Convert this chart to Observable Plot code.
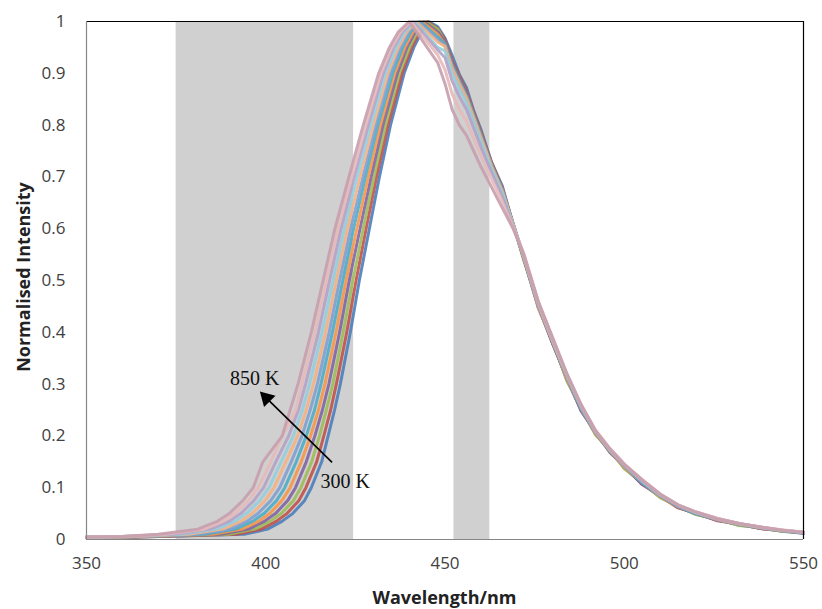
<!DOCTYPE html>
<html><head><meta charset="utf-8">
<script src="https://cdn.jsdelivr.net/npm/d3@7"></script>
<script src="https://cdn.jsdelivr.net/npm/@observablehq/plot@0.6"></script>
<style>body{margin:0;background:#fff;}#chart svg{display:block;}</style>
</head><body><div id="chart"></div>
<script>
const temperatures = ["300 K","350 K","400 K","450 K","500 K","550 K","600 K","650 K","700 K","750 K","800 K","850 K"];
const seriesColors = ["#4A7EBB","#C0504D","#9BBB59","#8064A2","#F79646","#4BACC6","#7F9FD0","#F4B183","#93CDDD","#B3A2C7","#E6B9B8","#C79FAE"];

// flat foot of each spectrum (values at 350 nm and 360 nm), one entry per temperature
const tailWavelengths = [350, 360];
const tailAt350 = [.004,.004,.004,.004,.004,.005,.005,.005,.005,.005,.005,.005];
const tailAt360 = [.004,.004,.005,.005,.005,.005,.005,.005,.006,.006,.006,.006];

// rising edge: wavelength (nm) at which each spectrum reaches these intensities
const riseLevels = [0.01,0.02,0.035,0.05,0.075,0.1,0.15,0.2,0.25,0.3,0.4,0.5,0.6,0.7,0.8,0.9,0.95,0.98];
const rise300 = [394.0,400.5,404.5,407.5,410.8,412.7,415.6,417.4,419.2,420.8,423.6,426.1,428.9,431.7,434.8,438.6,441.3,443.5];
const rise350 = [391.8,398.7,402.9,405.9,409.2,411.2,414.2,416.2,418.1,419.7,422.6,425.2,428.0,430.9,434.1,438.0,440.7,442.9];
const rise400 = [389.6,397.0,401.2,404.3,407.7,409.8,412.8,415.0,416.9,418.7,421.6,424.3,427.2,430.2,433.4,437.3,440.1,442.3];
const rise450 = [387.5,395.2,399.6,402.7,406.1,408.3,411.3,413.7,415.8,417.6,420.6,423.3,426.3,429.4,432.7,436.7,439.4,441.7];
const rise500 = [385.3,393.4,398.0,401.1,404.5,406.8,409.9,412.5,414.7,416.5,419.6,422.4,425.4,428.6,432.0,436.0,438.8,441.1];
const rise550 = [383.1,391.6,396.3,399.5,403.0,405.3,408.5,411.3,413.6,415.4,418.6,421.5,424.5,427.8,431.3,435.4,438.2,440.5];
const rise600 = [380.9,389.9,394.7,397.8,401.4,403.9,407.1,410.1,412.4,414.4,417.7,420.6,423.7,427.1,430.7,434.7,437.6,439.9];
const rise650 = [378.7,388.1,393.0,396.2,399.8,402.3,405.6,408.9,411.3,413.3,416.7,419.7,422.8,426.3,430.0,434.1,437.0,439.4];
const rise700 = [376.6,386.3,391.4,394.6,398.3,400.9,404.3,407.7,410.2,412.2,415.7,418.8,421.9,425.5,429.3,433.4,436.4,438.8];
const rise750 = [374.4,384.5,389.8,393.0,396.7,399.4,402.8,406.4,409.1,411.1,414.7,417.8,421.0,424.7,428.6,432.8,435.7,438.2];
const rise800 = [372.2,382.8,388.1,391.4,395.2,397.9,401.4,404.6,408.4,410.1,413.7,416.9,420.2,424.0,427.9,432.1,435.1,437.6];
const rise850 = [370.0,381.0,386.5,389.8,393.6,396.5,399.2,404.6,406.8,409.0,412.7,416.0,419.3,423.2,427.2,431.5,434.5,437.0];

// wavelength of the maximum (intensity 1) of each spectrum
const peakWavelength = [445.5,445.0,444.5,444.0,443.5,443.0,442.5,442.0,441.5,441.0,440.5,440.0];

// falling edge: intensity of each spectrum at these wavelengths
const fallWavelengths = [448,450,452,454,456,458,460,463,466,469,472,476,480,484,488,492,496,500,505,510,515,520,526,532,538,544,550];
const fall300 = [.990,.968,.934,.898,.872,.828,.792,.728,.682,.608,.542,.448,.382,.308,.252,.203,.172,.138,.109,.082,.063,.049,.038,.028,.022,.016,.012];
const fall350 = [.986,.965,.925,.895,.866,.826,.787,.728,.678,.610,.545,.452,.378,.312,.248,.207,.168,.141,.106,.084,.061,.051,.036,.030,.021,.017,.013];
const fall400 = [.985,.961,.920,.890,.861,.822,.783,.725,.676,.609,.538,.455,.384,.306,.254,.202,.173,.137,.110,.081,.064,.048,.039,.027,.023,.016,.013];
const fall450 = [.980,.961,.920,.890,.861,.822,.783,.725,.676,.609,.541,.450,.379,.311,.249,.206,.169,.142,.107,.085,.062,.050,.037,.030,.021,.018,.012];
const fall500 = [.975,.956,.915,.885,.856,.818,.780,.722,.674,.608,.546,.447,.383,.309,.253,.204,.171,.139,.111,.083,.063,.051,.038,.029,.022,.017,.013];
const fall550 = [.970,.956,.915,.885,.856,.818,.780,.722,.674,.608,.543,.453,.381,.313,.251,.207,.170,.143,.109,.085,.064,.050,.039,.029,.023,.017,.013];
const fall600 = [.965,.952,.910,.880,.852,.814,.776,.720,.672,.608,.547,.451,.385,.314,.254,.206,.173,.141,.112,.084,.065,.051,.038,.030,.023,.018,.013];
const fall650 = [.960,.952,.910,.880,.852,.814,.776,.720,.672,.608,.544,.455,.383,.316,.256,.208,.172,.144,.113,.086,.066,.052,.039,.030,.024,.018,.014];
const fall700 = [.950,.943,.900,.870,.843,.806,.769,.715,.668,.607,.548,.457,.386,.317,.257,.209,.174,.144,.113,.087,.066,.052,.040,.031,.023,.018,.014];
const fall750 = [.945,.930,.885,.855,.830,.794,.758,.708,.662,.605,.549,.458,.388,.318,.258,.209,.174,.145,.114,.087,.066,.053,.040,.031,.024,.018,.014];
const fall800 = [.935,.907,.860,.830,.807,.774,.741,.695,.652,.603,.552,.460,.390,.320,.260,.211,.176,.146,.116,.088,.067,.053,.041,.031,.024,.019,.014];
const fall850 = [.920,.880,.830,.800,.780,.750,.720,.680,.640,.600,.550,.460,.390,.320,.260,.210,.175,.145,.115,.088,.067,.053,.040,.031,.024,.018,.014];

const shadeStart = [375, 452.5];
const shadeEnd = [424.5, 462.5];
const xTicks = [350,400,450,500,550];
const yTicks = [0,0.1,0.2,0.3,0.4,0.5,0.6,0.7,0.8,0.9,1];
const noteText = ["850 K","300 K"];
const noteX = [396.9, 422.2];
const noteY = [0.311, 0.111];
const arrowTail = [418.5, 0.149];
const arrowTip = [400.2, 0.273];

const riseSeries = [rise300,rise350,rise400,rise450,rise500,rise550,rise600,rise650,rise700,rise750,rise800,rise850];
const fallSeries = [fall300,fall350,fall400,fall450,fall500,fall550,fall600,fall650,fall700,fall750,fall800,fall850];
const rows = temperatures.flatMap((t, i) => [
  {x: tailWavelengths[0], y: tailAt350[i], T: t},
  {x: tailWavelengths[1], y: tailAt360[i], T: t},
  ...riseLevels.map((v, k) => ({x: riseSeries[i][k], y: v, T: t})),
  {x: peakWavelength[i], y: 1, T: t},
  ...fallWavelengths.map((w, k) => ({x: w, y: fallSeries[i][k], T: t}))
]);
const shades = shadeStart.map((s, i) => ({x1: s, x2: shadeEnd[i], y1: 0, y2: 1}));
const notes = noteText.map((t, i) => ({text: t, x: noteX[i], y: noteY[i]}));
const arrows = [{x1: arrowTail[0], y1: arrowTail[1], x2: arrowTip[0], y2: arrowTip[1]}];

const chart = Plot.plot({
  width: 822, height: 609,
  marginLeft: 86, marginRight: 19, marginTop: 21, marginBottom: 70,
  style: {fontFamily: "Open Sans", fontSize: "17px", color: "#404040", background: "white"},
  x: {domain: [350, 550]},
  y: {domain: [0, 1]},
  color: {domain: temperatures, range: seriesColors},
  marks: [
    Plot.rect(shades, {x1: "x1", x2: "x2", y1: "y1", y2: "y2", fill: "#D0D0D0"}),
    Plot.line(rows, {x: "x", y: "y", z: "T", stroke: "T", strokeWidth: 3, strokeOpacity: 0.9}),
    Plot.ruleY([1], {stroke: "#000", strokeWidth: 1.2}),
    Plot.ruleX([550], {stroke: "#000", strokeWidth: 1.2}),
    Plot.ruleY([0], {stroke: "#868686", strokeWidth: 1.2}),
    Plot.ruleX([350], {stroke: "#868686", strokeWidth: 1.2}),
    Plot.link(arrows, {x1: "x1", y1: "y1", x2: "x2", y2: "y2", stroke: "#000", strokeWidth: 1.6}),
    Plot.dot(arrows, {x: "x2", y: "y2", symbol: "triangle", r: 6, fill: "#000", stroke: "none", rotate: -45}),
    Plot.text(notes, {x: "x", y: "y", text: "text", fontFamily: "Liberation Serif", fontSize: 20, fill: "#111"}),
    Plot.axisX({ticks: xTicks, tickSize: 0, tickPadding: 17, label: null, tickFormat: d => String(d)}),
    Plot.axisY({ticks: yTicks, tickSize: 0, tickPadding: 21, label: null, tickFormat: d => String(+d.toFixed(1))})
  ]
});
document.getElementById("chart").append(chart);
const svg = d3.select(chart);
svg.append("text").attr("x", 444.5).attr("y", 604).attr("text-anchor", "middle")
  .attr("font-family", "Open Sans").attr("font-weight", "bold").attr("font-size", 18).attr("fill", "#222")
  .text("Wavelength/nm");
svg.append("text").attr("transform", "translate(30,277) rotate(-90)").attr("text-anchor", "middle")
  .attr("font-family", "Open Sans").attr("font-weight", "bold").attr("font-size", 18).attr("fill", "#222")
  .text("Normalised Intensity");
</script>
</body></html>
